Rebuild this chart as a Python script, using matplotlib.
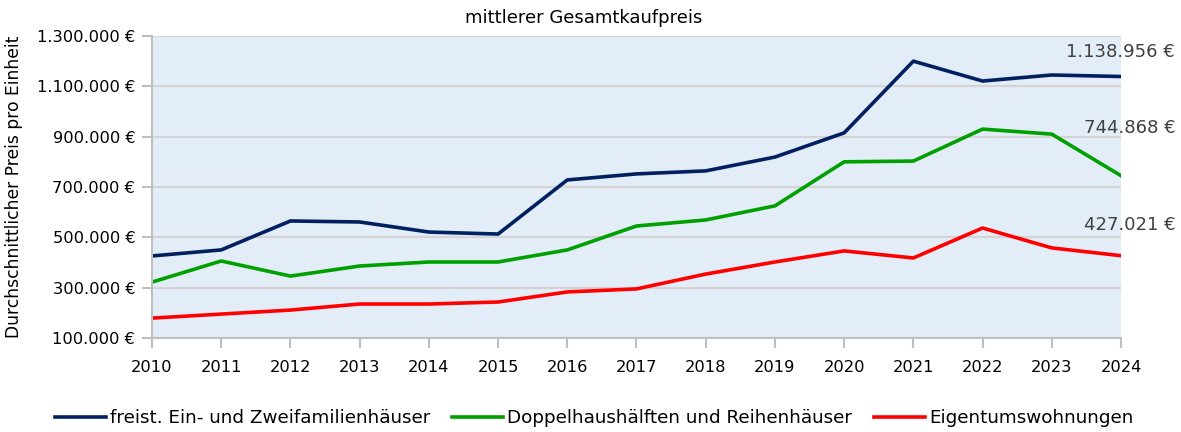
import matplotlib.pyplot as plt
from matplotlib.ticker import FuncFormatter

plt.rcParams['font.family'] = ['DejaVu Sans']

# Daten
jahre = list(range(2010, 2025))
efh = [426000, 450000, 565000, 561000, 521000, 513000, 728000, 752000,
       764000, 819000, 915000, 1200000, 1121000, 1145000, 1138956]
dhh = [322000, 406000, 346000, 386000, 402000, 402000, 450000, 545000,
       569000, 625000, 800000, 803000, 930000, 910000, 744868]
etw = [179000, 195000, 211000, 235000, 235000, 243000, 283000, 295000,
       354000, 402000, 446000, 418000, 537000, 458000, 427021]
y_ticks = [100000, 300000, 500000, 700000, 900000, 1100000, 1300000]

namen = ['freist. Ein- und Zweifamilienhäuser',
         'Doppelhaushälften und Reihenhäuser',
         'Eigentumswohnungen']
farben = ['#002060', '#00A000', '#FF0000']


def euro(v, pos=None):
    return f"{v:,.0f} €".replace(',', '.')


fig = plt.figure(figsize=(11.81, 4.32), dpi=100)
ax = fig.add_axes([0.1287, 0.2176, 0.8205, 0.6991])
ax.set_facecolor('#E3EDF7')

for werte, name, farbe in zip([efh, dhh, etw], namen, farben):
    ax.plot(jahre, werte, color=farbe, lw=2.6, label=name)

ax.set_xlim(2010, 2024)
ax.set_ylim(100000, 1300000)
ax.set_yticks(y_ticks)
ax.yaxis.set_major_formatter(FuncFormatter(euro))
ax.set_xticks(jahre)
ax.grid(axis='y', color='#D4D4D4', lw=1.5)
ax.set_axisbelow(True)

for s in ['top', 'right']:
    ax.spines[s].set_visible(False)
for s in ['left', 'bottom']:
    ax.spines[s].set_color('#BFBFBF')
    ax.spines[s].set_linewidth(1.5)
ax.tick_params(colors='#BFBFBF', width=1.5, length=7, labelcolor='black', labelsize=11.7)
ax.tick_params(axis='x', pad=9)
ax.tick_params(axis='y', pad=5)

ax.set_ylabel('Durchschnittlicher Preis pro Einheit', fontsize=12.3)
ax.yaxis.set_label_coords(-0.133, 0.5)
ax.set_title('mittlerer Gesamtkaufpreis', fontsize=13, pad=9, x=0.445)

# Beschriftung der letzten Werte
for werte, dy in zip([efh, dhh, etw], [18, 34.5, 22]):
    ax.annotate(euro(werte[-1]), (jahre[-1], werte[-1]), xytext=(39, dy),
                textcoords='offset points', ha='right', va='center',
                fontsize=13, color='#404040', annotation_clip=False)

fig.legend(loc='center', bbox_to_anchor=(0.503, 0.032), ncol=3, frameon=False,
           fontsize=13.2, handlelength=2.8, handletextpad=0.2, columnspacing=1.2)

fig.savefig('out.png', dpi=100)
